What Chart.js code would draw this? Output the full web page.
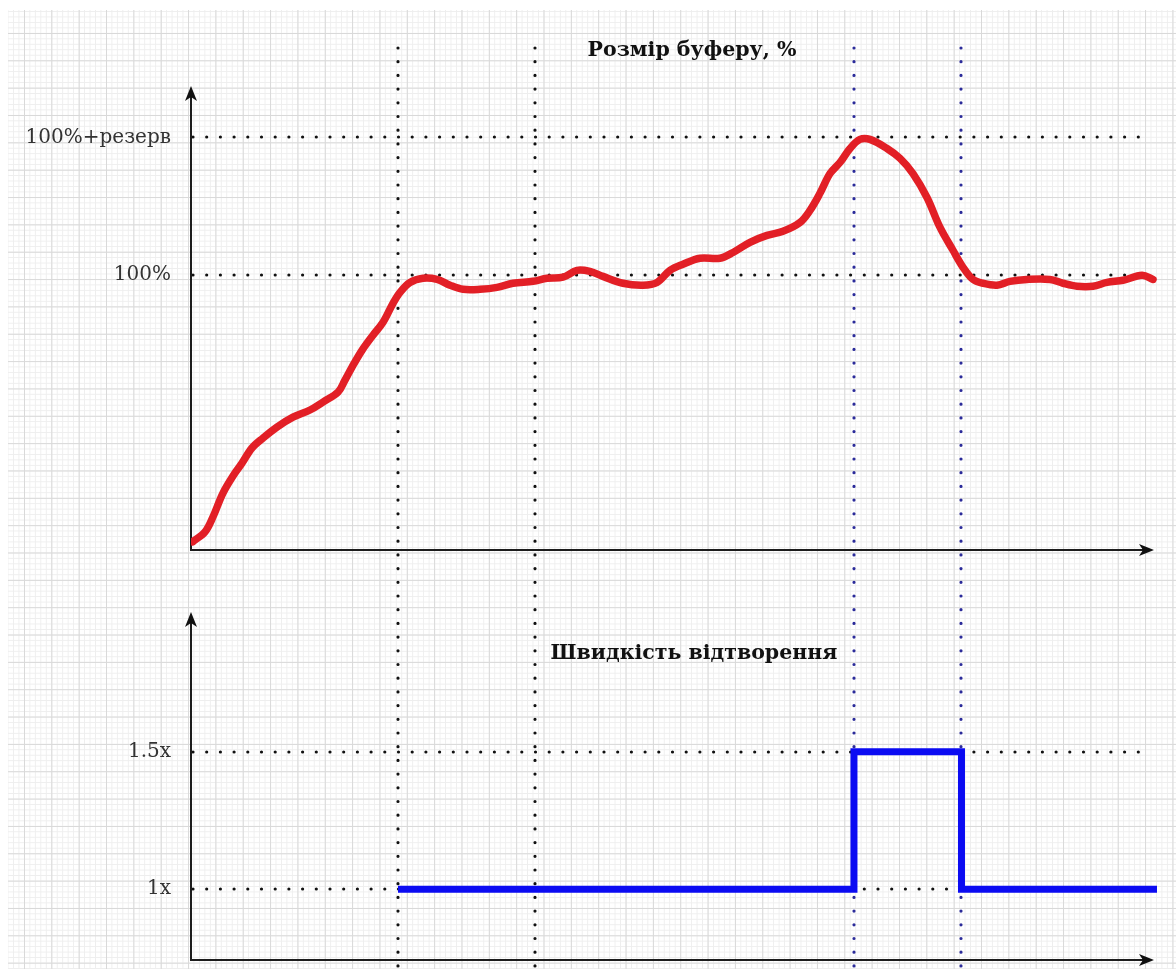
<!DOCTYPE html>
<html lang="uk">
<head>
<meta charset="utf-8">
<title>Розмір буферу і швидкість відтворення</title>
<script src="https://cdn.jsdelivr.net/npm/chart.js@4.4.1/dist/chart.umd.min.js"></script>
<style>
  html, body { margin: 0; padding: 0; background: #fff; }
  #page { position: relative; width: 1176px; height: 969px; overflow: hidden; background: #fff; }
  /* graph paper: major cells ~27.35px, minor ~5.47px */
  #paper {
    position: absolute; left: 8px; top: 10px; right: 0; bottom: 0;
    background-image:
      linear-gradient(to right, #d9d9d9 1px, transparent 1px),
      linear-gradient(to bottom, #d9d9d9 1px, transparent 1px),
      linear-gradient(to right, #eeeeee 1px, transparent 1px),
      linear-gradient(to bottom, #eeeeee 1px, transparent 1px);
    background-size: 27.35px 27.35px, 27.35px 27.35px, 5.47px 5.47px, 5.47px 5.47px;
    background-position: 16px 23px, 16px 23px, 5px 1px, 5px 1px;
  }
  canvas { position: absolute; left: 0; }
  #bufferChart { top: 0; }
  #speedChart { top: 570px; }
</style>
</head>
<body>
<div id="page">
  <div id="paper"></div>
  <canvas id="bufferChart" width="1176" height="570"></canvas>
  <canvas id="speedChart" width="1176" height="399"></canvas>
</div>
<script>
// Buffer size, % (top chart). x is time in arbitrary units 0..100
const bufferX = [0.18, 1.45, 2.28, 3.31, 4.55, 5.28, 6.31, 7.45, 8.90, 10.56, 12.32, 13.66, 15.22, 15.94,
  16.67, 17.70, 18.84, 19.88, 20.91, 21.64, 22.67, 24.02, 25.47, 26.81, 28.16, 29.92, 31.68, 33.33,
  35.40, 36.85, 38.51, 39.96, 41.30, 42.65, 44.72, 46.79, 48.24, 49.59, 50.93, 52.69, 54.76, 56.11,
  57.87, 59.63, 61.28, 63.04, 64.08, 65.11, 66.15, 67.18, 68.22, 69.25, 70.29, 72.05, 73.40, 74.74,
  76.19, 77.54, 78.88, 79.92, 80.95, 81.99, 83.44, 84.78, 86.54, 88.92, 90.27, 91.72, 93.37, 94.82,
  96.48, 98.45, 99.59];
const bufferY = [3.0, 6.6, 12.1, 20.7, 28.0, 31.6, 37.1, 40.7, 44.7, 48.3, 50.9, 53.8, 57.4, 61.8,
  66.5, 72.6, 78.1, 82.8, 89.7, 93.7, 97.3, 98.8, 98.4, 96.3, 94.8, 94.8, 95.5, 97.0,
  97.7, 98.8, 99.2, 101.7, 101.3, 99.5, 97.0, 96.3, 97.3, 101.7, 103.9, 106.1, 106.1, 108.2,
  111.9, 114.4, 115.9, 119.1, 123.5, 129.7, 136.9, 140.9, 146.0, 149.3, 149.3, 146.0, 142.4, 136.9,
  128.2, 117.3, 109.0, 102.8, 98.4, 97.0, 96.3, 97.7, 98.4, 98.4, 97.0, 95.9, 95.9, 97.3,
  98.1, 99.9, 98.4];
const bufferTickValues = [100, 150];
const bufferTickLabels = ['100%', '100%+резерв'];

// Playback speed (bottom chart), stepped
const speedX = [21.43, 68.63, 79.76, 100];
const speedY = [1, 1.5, 1, 1];
const speedTickValues = [1, 1.5];
const speedTickLabels = ['1x', '1.5x'];

// moments marked with vertical dotted lines
const markerX = [21.43, 35.61, 68.63, 79.76];
const markerColors = ['#111111', '#111111', '#2b2b9a', '#2b2b9a'];

Chart.defaults.font.family = "'DejaVu Serif', serif";
Chart.defaults.color = '#333';

function drawArrow(ctx, x, y, dir) {
    // draw.io style "classic" arrow head
    ctx.beginPath();
    if (dir === 'up') {
        ctx.moveTo(x, y);
        ctx.lineTo(x + 6, y + 15);
        ctx.lineTo(x, y + 11);
        ctx.lineTo(x - 6, y + 15);
    } else {
        ctx.moveTo(x, y);
        ctx.lineTo(x - 15, y - 6);
        ctx.lineTo(x - 11, y);
        ctx.lineTo(x - 15, y + 6);
    }
    ctx.closePath();
    ctx.fill();
}

const sketchPlugin = {
    id: 'sketch',
    beforeDatasetsDraw(chart, args, opts) {
        const { ctx, chartArea: a } = chart;
        const xs = chart.scales.x, ys = chart.scales.y;
        ctx.save();

        // dotted reference lines
        ctx.lineCap = 'round';
        ctx.lineWidth = 3.2;
        ctx.setLineDash([0, 13.7]);
        ctx.strokeStyle = '#111';
        opts.refs.forEach(v => {
            const py = Math.round(ys.getPixelForValue(v));
            ctx.beginPath();
            ctx.moveTo(a.left + 2, py);
            ctx.lineTo(1150, py);
            ctx.stroke();
        });
        markerX.forEach((v, i) => {
            const px = Math.round(xs.getPixelForValue(v));
            ctx.strokeStyle = markerColors[i];
            ctx.beginPath();
            ctx.moveTo(px, opts.markerTop);
            ctx.lineTo(px, chart.height + 2);
            ctx.stroke();
        });
        ctx.setLineDash([]);

        // axes with arrows
        ctx.lineCap = 'butt';
        ctx.strokeStyle = '#1c1c1c';
        ctx.fillStyle = '#111';
        ctx.lineWidth = 2;
        const ox = a.left, oy = a.bottom;
        ctx.beginPath();
        ctx.moveTo(ox, oy + 1);
        ctx.lineTo(ox, a.top + 8);
        ctx.moveTo(ox - 1, oy);
        ctx.lineTo(1145, oy);
        ctx.stroke();
        drawArrow(ctx, ox, a.top - 2, 'up');
        drawArrow(ctx, 1154, oy, 'right');
        ctx.restore();
    },
    afterDraw(chart, args, opts) {
        const ctx = chart.ctx;
        ctx.save();
        ctx.font = "bold 20.5px 'DejaVu Serif', serif";
        ctx.fillStyle = '#111';
        ctx.textAlign = 'center';
        ctx.textBaseline = 'alphabetic';
        ctx.fillText(opts.title, opts.titleX, opts.titleY);
        ctx.restore();
    }
};

function yScale(min, max, tickValues, tickLabels) {
    return {
        min: min,
        max: max,
        afterFit: s => {
            s.width = 191;
            // labels sit well inside the plot, no extra room needed above/below
            s.paddingTop = 0;
            s.paddingBottom = 0;
        },
        afterBuildTicks: s => { s.ticks = tickValues.map(v => ({ value: v })); },
        grid: { display: false, drawTicks: false },
        border: { display: false },
        ticks: {
            padding: 20,
            color: '#333',
            font: { size: 20 },
            callback: value => tickLabels[tickValues.indexOf(value)]
        }
    };
}

const xScale = { type: 'linear', min: 0, max: 100, display: false };

new Chart(document.getElementById('bufferChart'), {
    type: 'line',
    plugins: [sketchPlugin],
    data: {
        datasets: [{
            data: bufferX.map((x, i) => ({ x: x, y: bufferY[i] })),
            borderColor: '#e21f26',
            borderWidth: 7.5,
            pointRadius: 0,
            tension: 0.35,
            borderCapStyle: 'round',
            borderJoinStyle: 'round',
            fill: false
        }]
    },
    options: {
        responsive: false,
        animation: false,
        layout: { padding: { top: 88, bottom: 20, left: 0, right: 19 } },
        scales: {
            x: xScale,
            y: yScale(0, 168, bufferTickValues, bufferTickLabels)
        },
        plugins: {
            legend: { display: false },
            tooltip: { enabled: false },
            sketch: {
                refs: bufferTickValues,
                markerTop: 48,
                title: 'Розмір буферу, %',
                titleX: 692,
                titleY: 56
            }
        }
    }
});

new Chart(document.getElementById('speedChart'), {
    type: 'line',
    plugins: [sketchPlugin],
    data: {
        datasets: [{
            data: speedX.map((x, i) => ({ x: x, y: speedY[i] })),
            borderColor: '#0b0bf2',
            borderWidth: 7,
            pointRadius: 0,
            stepped: true,
            borderJoinStyle: 'miter',
            fill: false
        }]
    },
    options: {
        responsive: false,
        animation: false,
        layout: { padding: { top: 44, bottom: 9, left: 0, right: 19 } },
        scales: {
            x: xScale,
            y: yScale(0.743, 2.0, speedTickValues, speedTickLabels)
        },
        plugins: {
            legend: { display: false },
            tooltip: { enabled: false },
            sketch: {
                refs: speedTickValues,
                markerTop: 48 - 570,
                title: 'Швидкість відтворення',
                titleX: 694,
                titleY: 89
            }
        }
    }
});
</script>
</body>
</html>
